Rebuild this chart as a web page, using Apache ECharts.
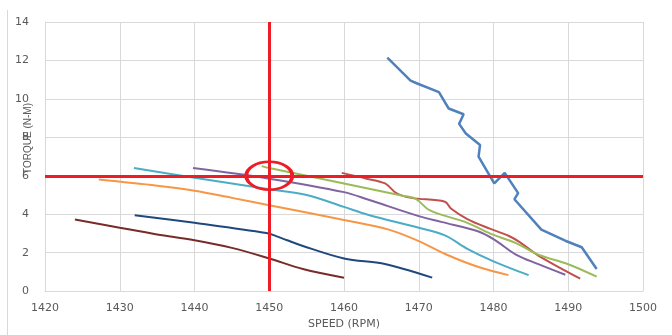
<!DOCTYPE html>
<html>
<head>
<meta charset="utf-8">
<script src="https://cdn.jsdelivr.net/npm/echarts@6/dist/echarts.min.js"></script>
<style>
  html, body { margin: 0; padding: 0; background: #fff; }
  #chart { width: 672px; height: 335px; }
</style>
</head>
<body>
<div id="chart"></div>
<script>
// speed (rpm), torque (N-m)
const blueCurve = [[1465.8, 12.15], [1468.9, 10.95], [1469.8, 10.8], [1472.7, 10.35], [1474, 9.5], [1476, 9.2], [1475.4, 8.7], [1476.3, 8.2], [1478.2, 7.6], [1478, 7.0], [1480.1, 5.6], [1481.5, 6.15], [1483.3, 5.1], [1482.8, 4.78], [1486.4, 3.2], [1489.6, 2.62], [1491.8, 2.28], [1493.8, 1.15]];
const redCurve = [[1459.7, 6.15], [1463, 5.85], [1465.5, 5.6], [1467, 5.1], [1469, 4.85], [1473.5, 4.65], [1474.3, 4.3], [1476.5, 3.75], [1479.5, 3.25], [1482, 2.88], [1483.5, 2.55], [1486, 1.85], [1491.6, 0.65]];
const greenCurve = [[1449, 6.5], [1450, 6.4], [1460, 5.6], [1468, 4.95], [1469.6, 4.8], [1471.5, 4.2], [1476.5, 3.55], [1479.5, 3.0], [1483, 2.5], [1486, 1.9], [1490, 1.4], [1493.8, 0.75]];
const purpleCurve = [[1439.8, 6.4], [1450, 5.85], [1460, 5.15], [1463.3, 4.75], [1470, 3.9], [1473, 3.6], [1478, 3.1], [1480.2, 2.65], [1483, 1.9], [1486, 1.4], [1489.6, 0.85]];
const cyanCurve = [[1431.9, 6.4], [1440, 5.9], [1450, 5.3], [1455, 5.0], [1460, 4.38], [1463.3, 3.96], [1470, 3.3], [1473.5, 2.9], [1476.5, 2.2], [1480, 1.55], [1484.7, 0.83]];
const orangeCurve = [[1427.2, 5.8], [1435, 5.48], [1440, 5.22], [1445, 4.85], [1450, 4.47], [1460, 3.7], [1466, 3.2], [1470, 2.6], [1474, 1.85], [1478, 1.25], [1482, 0.83]];
const navyCurve = [[1432, 3.95], [1440, 3.55], [1449.6, 3.02], [1451, 2.85], [1454.5, 2.35], [1460, 1.7], [1465, 1.45], [1468, 1.15], [1471.8, 0.7]];
const darkRedCurve = [[1424, 3.73], [1430, 3.3], [1435, 2.95], [1440, 2.65], [1445, 2.25], [1450, 1.7], [1454.5, 1.15], [1460, 0.7]];

const curves = [blueCurve, redCurve, greenCurve, purpleCurve, cyanCurve, orangeCurve, navyCurve, darkRedCurve];
const curveColors = ['#4F81BD', '#C0504D', '#9BBB59', '#8064A2', '#4BACC6', '#F79646', '#1F497D', '#772C2A'];

const ratedSpeed = 1450;
const ratedTorque = 6;

const chart = echarts.init(document.getElementById('chart'));

const gray = '#595959';
const gridColor = '#D9D9D9';

const series = curves.map((c, i) => ({
  type: 'line',
  data: c,
  showSymbol: false,
  smooth: i === 0 ? false : 0.35,
  lineStyle: { color: curveColors[i], width: i === 0 ? 2.5 : 2 },
  z: 2
}));

// red guide lines and circle at the rated point
series.push({
  type: 'line',
  data: [],
  z: 5,
  markLine: {
    silent: true,
    symbol: 'none',
    label: { show: false },
    lineStyle: { color: '#EE1C24', width: 3, type: 'solid' },
    data: [{ xAxis: ratedSpeed }, { yAxis: ratedTorque }]
  },
  markPoint: {
    silent: true,
    symbol: 'circle',
    symbolSize: [46, 28],
    label: { show: false },
    itemStyle: { color: 'rgba(0,0,0,0)', borderColor: '#EE1C24', borderWidth: 3 },
    data: [{ coord: [ratedSpeed, ratedTorque] }]
  }
});

chart.setOption({
  animation: false,
  grid: { left: 45, right: 29, top: 22, bottom: 40 },
  xAxis: {
    type: 'value',
    min: 1420,
    max: 1500,
    interval: 10,
    name: 'SPEED (RPM)',
    nameLocation: 'middle',
    nameGap: 27,
    nameTextStyle: { color: gray, fontSize: 11, fontFamily: 'DejaVu Sans' },
    axisLine: { lineStyle: { color: gridColor } },
    axisTick: { show: false },
    axisLabel: { color: gray, fontSize: 11, fontFamily: 'DejaVu Sans', margin: 12, formatter: v => String(v) },
    splitLine: { show: true, lineStyle: { color: gridColor, width: 1 } }
  },
  yAxis: {
    type: 'value',
    min: 0,
    max: 14,
    interval: 2,
    axisLine: { show: true, lineStyle: { color: gridColor } },
    axisTick: { show: false },
    axisLabel: { color: gray, fontSize: 11, fontFamily: 'DejaVu Sans', margin: 16 },
    splitLine: { show: true, lineStyle: { color: gridColor, width: 1 } }
  },
  graphic: [
    {
      type: 'text',
      left: 23,
      top: 103,
      rotation: Math.PI / 2,
      style: { text: 'TORQUE (N-M)', fill: gray, font: '10px "Liberation Sans"' }
    },
    {
      type: 'line',
      shape: { x1: 7.5, y1: 10, x2: 7.5, y2: 335 },
      style: { stroke: gridColor, lineWidth: 1 }
    }
  ],
  series: series
});
</script>
</body>
</html>
